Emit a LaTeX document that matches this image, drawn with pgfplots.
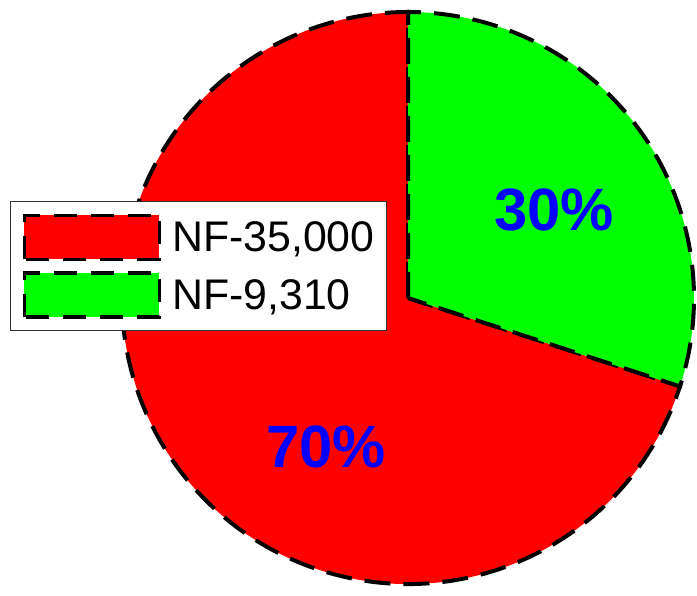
\documentclass[border=0pt]{standalone}
\usepackage{pgfplots}
\pgfplotsset{compat=1.18}
\usepackage{fontspec}
\setmainfont{Liberation Sans}
\definecolor{pieRed}{RGB}{255,0,0}
\definecolor{pieGreen}{RGB}{0,255,0}
\definecolor{pctBlue}{RGB}{0,0,255}
\tikzset{pie/.style={line width=4bp, draw=black, dash pattern=on 26bp off 13bp}}
\begin{document}
\begin{tikzpicture}
% shares in percent, green starts at 12 o'clock and runs clockwise
\def\valGreen{30}
\def\valRed{70}
\pgfmathsetmacro{\cut}{90-3.6*\valGreen}
\begin{axis}[
    hide axis, scale only axis,
    width=697bp, height=596bp,
    xmin=0, xmax=697, ymin=0, ymax=596,
    clip=false,
    legend cell align=left,
    legend style={at={(0.0143,0.663)}, anchor=north west,
        draw=black!80, line width=1.5bp, fill=white,
        font=\fontsize{43}{50}\selectfont,
        nodes={inner sep=0pt},
        inner xsep=12bp, inner ysep=12bp,
        row sep=10bp, column sep=11bp},
]
\addlegendimage{legend image code/.code={\draw[fill=pieRed, draw=black, line width=3.5bp, dash pattern=on 23bp off 14bp] (0bp,-22bp) rectangle (135bp,22bp);}}
\addlegendentry{NF-35,000\hspace{12bp}}
\addlegendimage{legend image code/.code={\draw[fill=pieGreen, draw=black, line width=3.5bp, dash pattern=on 23bp off 14bp] (0bp,-22bp) rectangle (135bp,22bp);}}
\addlegendentry{NF-9,310}

\filldraw[pie, fill=pieRed] (axis cs:408,298) -- ++(\cut:286bp)
    arc[start angle=\cut, end angle=-270, radius=286bp] -- cycle;
\filldraw[pie, fill=pieGreen] (axis cs:408,298) -- ++(90:286bp)
    arc[start angle=90, end angle=\cut, radius=286bp] -- cycle;

\node[text=pctBlue, font=\fontsize{60}{60}\selectfont\bfseries]
    at (axis cs:554,386) {\valGreen\%};
\node[text=pctBlue, font=\fontsize{60}{60}\selectfont\bfseries]
    at (axis cs:326,149) {\valRed\%};
\end{axis}
\pgfresetboundingbox
\path (current axis.south west) rectangle (current axis.north east);
\end{tikzpicture}
\end{document}
